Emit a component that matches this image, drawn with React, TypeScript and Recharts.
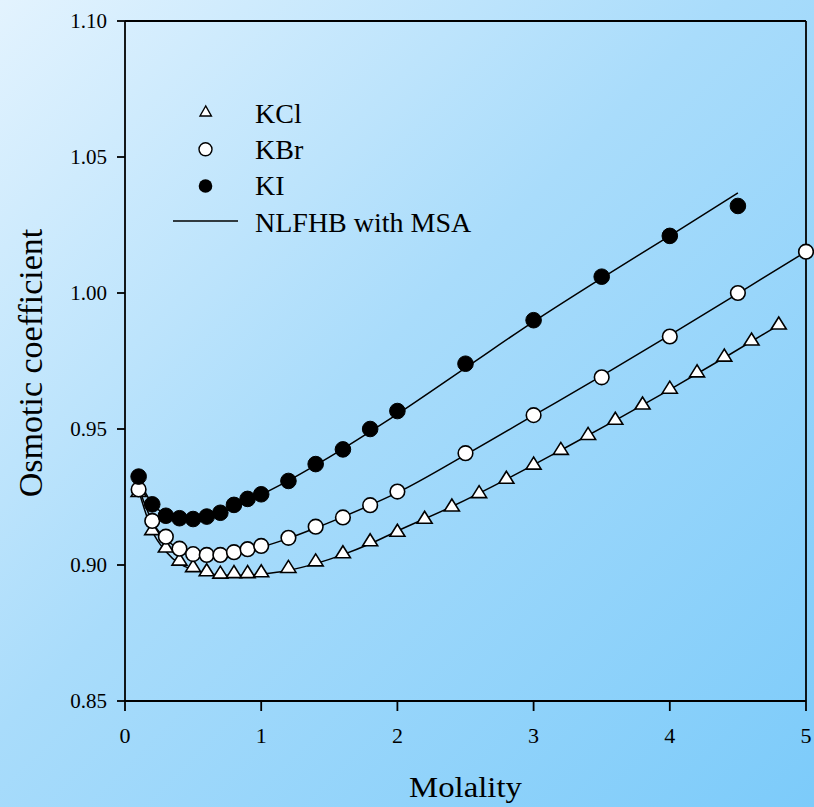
import React from "react";
import {
  ComposedChart,
  Line,
  Scatter,
  XAxis,
  YAxis,
  ReferenceLine,
  Legend,
} from "recharts";

// ---- data ----
const kclPoints = [
  { m: 0.1, v: 0.927 }, { m: 0.2, v: 0.913 }, { m: 0.3, v: 0.9066 }, { m: 0.4, v: 0.9018 },
  { m: 0.5, v: 0.8994 }, { m: 0.6, v: 0.8979 }, { m: 0.7, v: 0.897 }, { m: 0.8, v: 0.8972 },
  { m: 0.9, v: 0.8972 }, { m: 1.0, v: 0.8975 }, { m: 1.2, v: 0.8991 }, { m: 1.4, v: 0.9015 },
  { m: 1.6, v: 0.9045 }, { m: 1.8, v: 0.9089 }, { m: 2.0, v: 0.9124 }, { m: 2.2, v: 0.9172 },
  { m: 2.4, v: 0.9217 }, { m: 2.6, v: 0.9266 }, { m: 2.8, v: 0.9319 }, { m: 3.0, v: 0.9371 },
  { m: 3.2, v: 0.9425 }, { m: 3.4, v: 0.948 }, { m: 3.6, v: 0.9536 }, { m: 3.8, v: 0.9592 },
  { m: 4.0, v: 0.965 }, { m: 4.2, v: 0.971 }, { m: 4.4, v: 0.9768 }, { m: 4.6, v: 0.9827 },
  { m: 4.8, v: 0.9886 },
];

const kbrPoints = [
  { m: 0.1, v: 0.9278 }, { m: 0.2, v: 0.9162 }, { m: 0.3, v: 0.9104 }, { m: 0.4, v: 0.906 },
  { m: 0.5, v: 0.904 }, { m: 0.6, v: 0.9037 }, { m: 0.7, v: 0.9037 }, { m: 0.8, v: 0.9047 },
  { m: 0.9, v: 0.9058 }, { m: 1.0, v: 0.907 }, { m: 1.2, v: 0.91 }, { m: 1.4, v: 0.9141 },
  { m: 1.6, v: 0.9175 }, { m: 1.8, v: 0.922 }, { m: 2.0, v: 0.927 }, { m: 2.5, v: 0.9411 },
  { m: 3.0, v: 0.9551 }, { m: 3.5, v: 0.969 }, { m: 4.0, v: 0.984 }, { m: 4.5, v: 1.0 },
  { m: 5.0, v: 1.0152 },
];

const kiPoints = [
  { m: 0.1, v: 0.9325 }, { m: 0.2, v: 0.9223 }, { m: 0.3, v: 0.9181 }, { m: 0.4, v: 0.9172 },
  { m: 0.5, v: 0.9169 }, { m: 0.6, v: 0.9178 }, { m: 0.7, v: 0.9192 }, { m: 0.8, v: 0.9221 },
  { m: 0.9, v: 0.9243 }, { m: 1.0, v: 0.926 }, { m: 1.2, v: 0.9309 }, { m: 1.4, v: 0.9371 },
  { m: 1.6, v: 0.9425 }, { m: 1.8, v: 0.95 }, { m: 2.0, v: 0.9566 }, { m: 2.5, v: 0.974 },
  { m: 3.0, v: 0.99 }, { m: 3.5, v: 1.006 }, { m: 4.0, v: 1.021 }, { m: 4.5, v: 1.032 },
];

// NLFHB with MSA model curves
const kclFit = [
  { m: 0.1, v: 0.9275 }, { m: 0.2, v: 0.9125 }, { m: 0.3, v: 0.905 }, { m: 0.4, v: 0.9005 },
  { m: 0.5, v: 0.8983 }, { m: 0.6, v: 0.897 }, { m: 0.7, v: 0.8963 }, { m: 0.8, v: 0.8962 },
  { m: 0.9, v: 0.8963 }, { m: 1.0, v: 0.8967 }, { m: 1.2, v: 0.898 }, { m: 1.4, v: 0.9005 },
  { m: 1.6, v: 0.9038 }, { m: 1.8, v: 0.9078 }, { m: 2.0, v: 0.9125 }, { m: 2.4, v: 0.9215 },
  { m: 2.8, v: 0.9315 }, { m: 3.2, v: 0.9422 }, { m: 3.6, v: 0.9532 }, { m: 4.0, v: 0.9645 },
  { m: 4.4, v: 0.9762 }, { m: 4.8, v: 0.9882 },
];

const kbrFit = [
  { m: 0.1, v: 0.9285 }, { m: 0.2, v: 0.916 }, { m: 0.3, v: 0.9095 }, { m: 0.4, v: 0.906 },
  { m: 0.5, v: 0.9042 }, { m: 0.6, v: 0.9035 }, { m: 0.7, v: 0.9035 }, { m: 0.8, v: 0.9042 },
  { m: 0.9, v: 0.9053 }, { m: 1.0, v: 0.9066 }, { m: 1.2, v: 0.9098 }, { m: 1.4, v: 0.9136 },
  { m: 1.6, v: 0.9177 }, { m: 1.8, v: 0.922 }, { m: 2.0, v: 0.9266 }, { m: 2.5, v: 0.9405 },
  { m: 3.0, v: 0.955 }, { m: 3.5, v: 0.9695 }, { m: 4.0, v: 0.9845 }, { m: 4.5, v: 0.9998 },
  { m: 5.0, v: 1.0152 },
];

const kiFit = [
  { m: 0.1, v: 0.9315 }, { m: 0.2, v: 0.9225 }, { m: 0.3, v: 0.9185 }, { m: 0.4, v: 0.917 },
  { m: 0.5, v: 0.9168 }, { m: 0.6, v: 0.9175 }, { m: 0.7, v: 0.919 }, { m: 0.8, v: 0.921 },
  { m: 0.9, v: 0.9233 }, { m: 1.0, v: 0.9258 }, { m: 1.2, v: 0.931 }, { m: 1.4, v: 0.9367 },
  { m: 1.6, v: 0.9427 }, { m: 1.8, v: 0.949 }, { m: 2.0, v: 0.9555 }, { m: 2.5, v: 0.9725 },
  { m: 3.0, v: 0.9895 }, { m: 3.5, v: 1.0055 }, { m: 4.0, v: 1.021 }, { m: 4.5, v: 1.0368 },
];

const xTicks = [0, 1, 2, 3, 4, 5];
const yTicks = [0.85, 0.9, 0.95, 1.0, 1.05, 1.1];
const legendLabels = ["KCl", "KBr", "KI", "NLFHB with MSA"];
const xTitle = "Molality";
const yTitle = "Osmotic coefficient";

const FONT = "'Liberation Serif', 'Tinos', 'Times New Roman', 'DejaVu Serif', serif";
const fontStyle = { fontFamily: FONT };

const TriangleShape = (props: any) => {
  const { cx, cy } = props;
  if (cx == null || cy == null) return null;
  const pts = `${cx},${cy - 7} ${cx - 7.5},${cy + 5} ${cx + 7.5},${cy + 5}`;
  return <polygon points={pts} fill="#fff" stroke="#000" strokeWidth={1.6} />;
};

const OpenCircle = (props: any) => {
  const { cx, cy } = props;
  if (cx == null || cy == null) return null;
  return <circle cx={cx} cy={cy} r={7.3} fill="#fff" stroke="#000" strokeWidth={1.6} />;
};

const FilledCircle = (props: any) => {
  const { cx, cy } = props;
  if (cx == null || cy == null) return null;
  return <circle cx={cx} cy={cy} r={7.8} fill="#000" stroke="#000" strokeWidth={1} />;
};

const renderLegend = () => (
  <svg width={340} height={150} style={{ display: "block", fontFamily: FONT }}>
    <polygon points="45.7,16 40,26 51.4,26" fill="#fff" stroke="#000" strokeWidth={1.4} />
    <text x={95} y={32.5} fontSize={28} style={fontStyle} fill="#000">{legendLabels[0]}</text>
    <circle cx={45.5} cy={59.3} r={6.5} fill="#fff" stroke="#000" strokeWidth={1.4} />
    <text x={95} y={68.5} fontSize={28} style={fontStyle} fill="#000">{legendLabels[1]}</text>
    <circle cx={45.5} cy={96} r={6.8} fill="#000" />
    <text x={95} y={105} fontSize={28} style={fontStyle} fill="#000">{legendLabels[2]}</text>
    <line x1={13} y1={131} x2={78} y2={131} stroke="#000" strokeWidth={1.5} />
    <text x={95} y={141.7} fontSize={28} style={fontStyle} fill="#000">{legendLabels[3]}</text>
  </svg>
);

const YLabel = (props: any) => {
  const vb = props.viewBox || {};
  const x = 42;
  const y = (vb.y ?? 21) + (vb.height ?? 680) / 2 + 2;
  return (
    <text
      x={x}
      y={y}
      transform={`rotate(-90 ${x} ${y})`}
      textAnchor="middle"
      fontSize={34}
      style={fontStyle}
      fill="#000"
    >
      {yTitle}
    </text>
  );
};

const XLabel = (props: any) => {
  const vb = props.viewBox || {};
  const cx = (vb.x ?? 125) + (vb.width ?? 681) / 2;
  const by = (vb.y ?? 701) + (vb.height ?? 106) - 10;
  return (
    <text
      transform={`translate(${cx} ${by}) scale(1.13 1)`}
      x={0}
      y={0}
      textAnchor="middle"
      fontSize={29}
      style={fontStyle}
      fill="#000"
    >
      {xTitle}
    </text>
  );
};

export default function App() {
  return (
    <div
      style={{
        position: "absolute",
        left: 0,
        top: 0,
        width: 814,
        height: 807,
        fontFamily: FONT,
        background: "linear-gradient(135deg, #e3f3fe 0%, #a9dcfb 45%, #7ccbfa 100%)",
      }}
    >
      <ComposedChart
        width={814}
        height={807}
        margin={{ top: 21, right: 8, bottom: 0, left: 0 }}
        style={fontStyle}
      >
        <XAxis
          dataKey="m"
          type="number"
          domain={[0, 5]}
          ticks={xTicks}
          tickSize={10}
          tickMargin={16}
          height={106}
          stroke="#000"
          strokeWidth={1.8}
          tick={{ fontSize: 22, fontFamily: FONT, fill: "#000", style: fontStyle }}
          tickLine={{ stroke: "#000", strokeWidth: 1.8 }}
          label={<XLabel />}
        />
        <YAxis
          dataKey="v"
          type="number"
          domain={[0.85, 1.1]}
          ticks={yTicks}
          tickFormatter={(t: number) => t.toFixed(2)}
          tickSize={8}
          tickMargin={10}
          width={125}
          stroke="#000"
          strokeWidth={1.8}
          tick={{ fontSize: 21, fontFamily: FONT, fill: "#000", style: fontStyle }}
          tickLine={{ stroke: "#000", strokeWidth: 1.8 }}
          label={<YLabel />}
        />
        <ReferenceLine y={1.1} stroke="#000" strokeWidth={1.8} />
        <ReferenceLine x={5} stroke="#000" strokeWidth={1.8} />
        <Legend
          layout="horizontal"
          verticalAlign="middle"
          align="center"
          content={renderLegend}
          wrapperStyle={{ position: "absolute", left: 160, top: 90, width: 340, height: 150 }}
        />
        <Scatter data={kclPoints} dataKey="v" name="KCl" shape={<TriangleShape />} isAnimationActive={false} legendType="none" />
        <Scatter data={kbrPoints} dataKey="v" name="KBr" shape={<OpenCircle />} isAnimationActive={false} legendType="none" />
        <Scatter data={kiPoints} dataKey="v" name="KI" shape={<FilledCircle />} isAnimationActive={false} legendType="none" />
        <Line data={kclFit} dataKey="v" type="monotone" stroke="#000" strokeWidth={1.5} dot={false} activeDot={false} isAnimationActive={false} legendType="none" />
        <Line data={kbrFit} dataKey="v" type="monotone" stroke="#000" strokeWidth={1.5} dot={false} activeDot={false} isAnimationActive={false} legendType="none" />
        <Line data={kiFit} dataKey="v" type="monotone" stroke="#000" strokeWidth={1.5} dot={false} activeDot={false} isAnimationActive={false} legendType="none" />
      </ComposedChart>
    </div>
  );
}
